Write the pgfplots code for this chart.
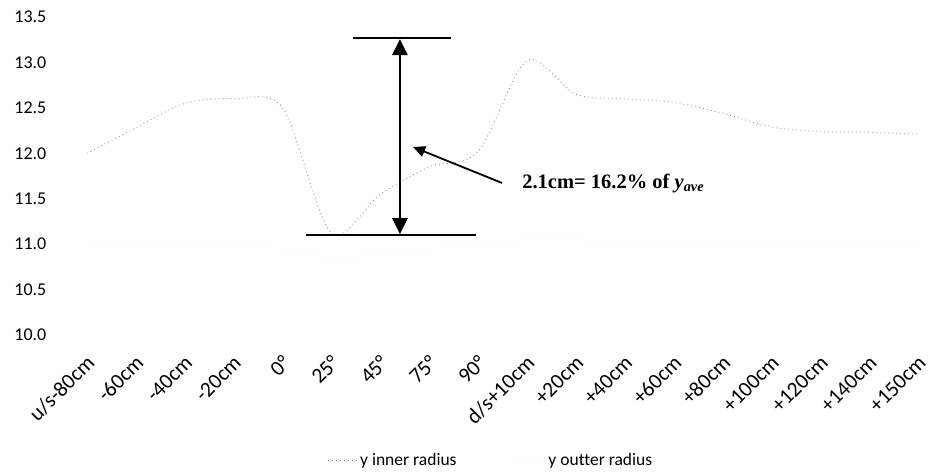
\documentclass[border=0pt]{standalone}
\usepackage{pgfplots}
\pgfplotsset{compat=1.18}
\usepackage{fontspec}
\setmainfont{Carlito}[Ligatures=NoCommon]
\newfontfamily\annfont{Liberation Serif}
\usetikzlibrary{arrows.meta}
\begin{document}
\begin{tikzpicture}
\begin{axis}[
  at={(0pt,0pt)}, anchor=south west,
  scale only axis,
  width=870.4pt, height=318pt,
  xmin=-0.5, xmax=17.3,
  ymin=10, ymax=13.5,
  ytick={10,10.5,11,11.5,12,12.5,13,13.5},
  xtick={0,...,17},
  xticklabels={u/s-80cm,-60cm,-40cm,-20cm,0°,25°,45°,75°,90°,d/s+10cm,+20cm,+40cm,+60cm,+80cm,+100cm,+120cm,+140cm,+150cm},
  axis line style={draw=none},
  tick style={draw=none},
  /pgf/number format/assume math mode=true,
  /pgf/number format/fixed, /pgf/number format/fixed zerofill, /pgf/number format/precision=1,
  yticklabel style={font=\fontsize{18}{21}\selectfont, anchor=east, inner sep=0pt, xshift=-16pt},
  xticklabel style={font=\fontsize{21.5}{25}\selectfont, xshift=4pt, yshift=-24pt, rotate=45, anchor=east, inner sep=0pt},
  legend style={at={(axis description cs:0.492,-0.393)}, anchor=center, draw=none, fill=none,
    font=\fontsize{17.5}{21}\selectfont, legend columns=2,
    /tikz/every even column/.append style={column sep=57pt}},
  legend image code/.code={\draw[#1] (0pt,0pt) -- (30pt,0pt);},
]
\addplot[black!45, line width=0.9pt, dash pattern=on 0.8pt off 3.2pt, smooth, tension=0.5] coordinates {
(0,12.00) (1,12.28) (2,12.55) (3,12.60) (4,12.50) (5,11.12) (6,11.55) (7,11.85) (8,12.02)
(9,13.02) (10,12.65) (11,12.60) (12,12.56) (13,12.44) (14,12.29) (15,12.24) (16,12.23) (17,12.21)};
\addlegendentry{y inner radius}
\addplot[black!4, line width=0.9pt, dash pattern=on 0.8pt off 3.2pt, smooth, tension=0.5] coordinates {
(0,11.00) (1,11.00) (2,11.00) (3,11.00) (4,10.95) (5,10.85) (6,10.90) (7,10.95) (8,11.00)
(9,11.05) (10,11.05) (11,11.00) (12,11.00) (13,11.00) (14,11.00) (15,11.00) (16,11.00) (17,11.00)};
\addlegendentry{y outter radius}
% annotation
\draw[black, line width=1.8pt] (axis cs:5.44,13.269) -- (axis cs:7.44,13.269);
\draw[black, line width=2.2pt] (axis cs:4.48,11.10) -- (axis cs:7.95,11.10);
\draw[black, line width=2.8pt, {Triangle[length=16pt,width=15pt]}-{Triangle[length=16pt,width=15pt]}, shorten <=0.9pt, shorten >=1.1pt] (axis cs:6.40,11.10) -- (axis cs:6.40,13.269);
\draw[black, line width=1.8pt, -{Triangle[length=12pt,width=11pt]}] (axis cs:8.49,11.673) -- (axis cs:6.67,12.069);
\node[anchor=west, inner sep=0pt, font=\annfont\bfseries\fontsize{20.5}{24}\selectfont] at (axis cs:8.9,11.67) {2.1cm= 16.2\% of \textit{y}\textsubscript{\textit{ave}}};
\end{axis}
\pgfresetboundingbox
\useasboundingbox (-62.5pt,-140pt) rectangle (870.5pt,335pt);
\end{tikzpicture}
\end{document}
